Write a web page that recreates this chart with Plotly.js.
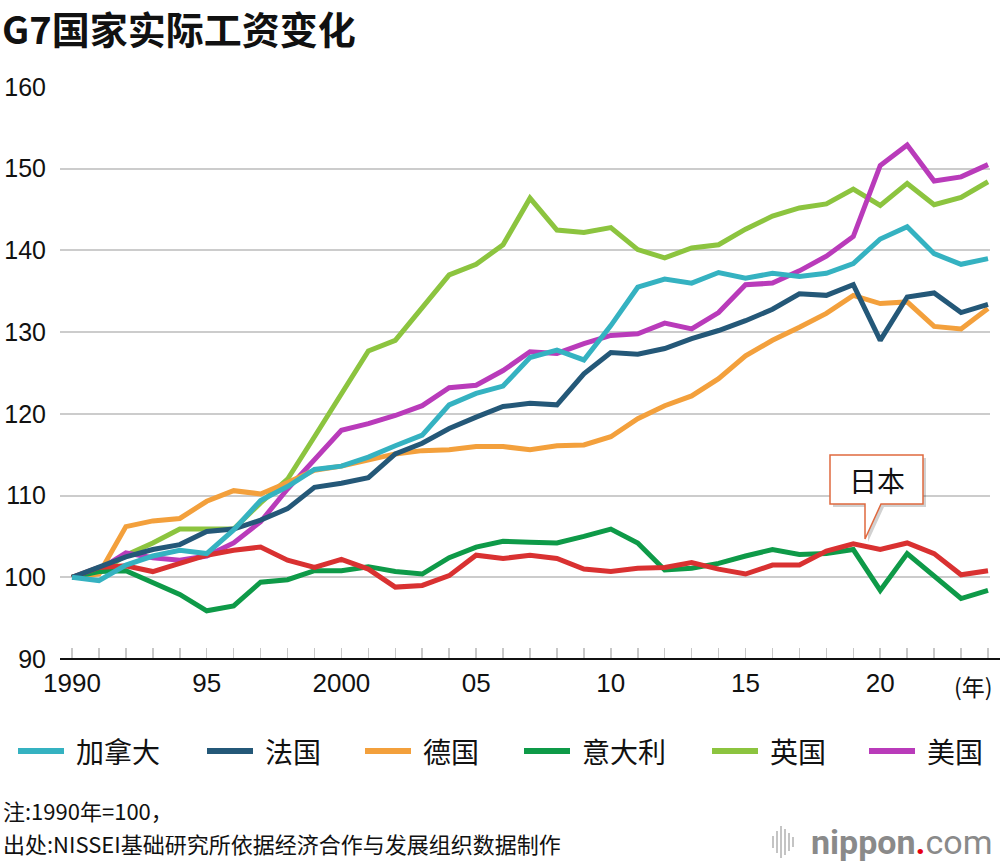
<!DOCTYPE html>
<html>
<head>
<meta charset="utf-8">
<script src="https://cdn.plot.ly/plotly-3.0.1.min.js"></script>
<style>
  html, body { margin: 0; padding: 0; background: #ffffff; }
  #chart { width: 1000px; height: 864px; }
</style>
</head>
<body>
<div id="chart"></div>
<script>
// ---------------- data ----------------
const years = [];
for (let y = 1990; y <= 2024; y++) years.push(y);

const canada = [100, 99.6, 101.5, 102.6, 103.3, 102.9, 105.8, 109.4, 111.1, 113.2,
  113.6, 114.7, 116.1, 117.4, 121.1, 122.5, 123.4, 126.9, 127.8, 126.6,
  130.8, 135.5, 136.5, 136.0, 137.3, 136.6, 137.2, 136.8, 137.2, 138.4,
  141.4, 142.9, 139.6, 138.3, 139.0];
const france = [100, 101.3, 102.5, 103.4, 104.0, 105.6, 105.9, 107.0, 108.4, 111.0,
  111.5, 112.2, 115.1, 116.4, 118.2, 119.6, 120.9, 121.3, 121.1, 124.9,
  127.5, 127.3, 128.0, 129.2, 130.2, 131.4, 132.8, 134.7, 134.5, 135.8,
  129.0, 134.3, 134.8, 132.4, 133.4];
const germany = [100, 100.4, 106.2, 106.9, 107.2, 109.3, 110.6, 110.2, 111.6, 113.1,
  113.6, 114.4, 115.1, 115.5, 115.6, 116.0, 116.0, 115.6, 116.1, 116.2,
  117.2, 119.4, 121.0, 122.2, 124.3, 127.1, 129.0, 130.6, 132.3, 134.5,
  133.5, 133.7, 130.7, 130.4, 132.9];
const italy = [100, 100.7, 100.8, 99.3, 97.9, 95.9, 96.5, 99.4, 99.7, 100.8,
  100.8, 101.3, 100.7, 100.4, 102.4, 103.7, 104.4, 104.3, 104.2, 105.0,
  105.9, 104.2, 100.9, 101.1, 101.7, 102.6, 103.4, 102.8, 102.9, 103.4,
  98.4, 102.9, 100.1, 97.4, 98.4];
const uk = [100, 100.5, 102.7, 104.2, 105.9, 105.9, 105.9, 109.1, 112.0, 117.2,
  122.4, 127.7, 129.0, 133.1, 137.0, 138.3, 140.7, 146.4, 142.5, 142.2,
  142.8, 140.1, 139.1, 140.3, 140.7, 142.6, 144.2, 145.2, 145.7, 147.5,
  145.5, 148.2, 145.6, 146.5, 148.4];
const usa = [100, 100.9, 103.0, 102.4, 102.1, 102.6, 104.2, 106.8, 110.8, 114.4,
  118.0, 118.8, 119.8, 121.0, 123.2, 123.5, 125.3, 127.6, 127.4, 128.6,
  129.6, 129.8, 131.1, 130.4, 132.4, 135.8, 136.0, 137.5, 139.3, 141.7,
  150.4, 152.9, 148.5, 149.0, 150.5];
const japan = [100, 101.2, 101.4, 100.7, 101.7, 102.7, 103.3, 103.7, 102.1, 101.2,
  102.2, 101.0, 98.8, 99.0, 100.2, 102.7, 102.3, 102.7, 102.3, 101.0,
  100.7, 101.1, 101.2, 101.8, 101.0, 100.4, 101.5, 101.5, 103.2, 104.1,
  103.4, 104.2, 102.9, 100.3, 100.8];

const xTickVals = [1990, 1995, 2000, 2005, 2010, 2015, 2020];
const xTickText = ['1990', '95', '2000', '05', '10', '15', '20'];
const yTickVals = [90, 100, 110, 120, 130, 140, 150, 160];

const legendNames = ['加拿大', '法国', '德国', '意大利', '英国', '美国'];
const japanName = '日本';

// ---------------- styles ----------------
const colors = {
  '加拿大': '#35b2c1', '法国': '#245878', '德国': '#f3a03c',
  '意大利': '#0e9a48', '英国': '#8cc43f', '美国': '#b93bba', '日本': '#d93131'
};
const seriesData = {
  '加拿大': canada, '法国': france, '德国': germany,
  '意大利': italy, '英国': uk, '美国': usa, '日本': japan
};
// drawing order (last on top)
const drawOrder = ['英国', '美国', '德国', '意大利', '日本', '法国', '加拿大'];

const traces = drawOrder.map(n => ({
  type: 'scatter', mode: 'lines', name: n,
  x: years, y: seriesData[n],
  line: { color: colors[n], width: 5 },
  showlegend: false, hoverinfo: 'skip'
}));

// pixel -> paper helpers (plot area: x 60..990, y 87..659)
const L = 60, R = 990, T = 87, B = 659;
const PX = p => (p - L) / (R - L);
const PY = p => (B - p) / (B - T);

const cjk = '"Noto Sans CJK SC", "Noto Sans", sans-serif';
const num = '"Liberation Sans Narrow", "Liberation Sans", Arial, sans-serif';

const shapes = [];
const annotations = [];

// bottom axis line
shapes.push({ type: 'line', xref: 'paper', yref: 'paper',
  x0: PX(60), x1: PX(1000), y0: 0, y1: 0,
  line: { color: '#111', width: 2 }, layer: 'above' });

// custom legend
const legendX = [16, 205, 363, 522, 710, 867];
const legendY = 751;
legendNames.forEach((n, i) => {
  shapes.push({ type: 'line', xref: 'paper', yref: 'paper',
    x0: PX(legendX[i] + 2), x1: PX(legendX[i] + 48), y0: PY(legendY), y1: PY(legendY),
    line: { color: colors[n], width: 6 } });
  annotations.push({ xref: 'paper', yref: 'paper', x: PX(legendX[i] + 58), y: PY(legendY),
    xanchor: 'left', yanchor: 'middle', showarrow: false, text: n,
    font: { family: cjk, size: 28, color: '#111' } });
});

// callout bubble for Japan
function bubblePath(dx, dy) {
  const pts = [[830, 455], [923, 455], [923, 504], [881, 504], [865, 539], [865, 504], [830, 504]];
  return 'M' + pts.map(p => PX(p[0] + dx) + ',' + PY(p[1] + dy)).join(' L') + ' Z';
}
shapes.push({ type: 'path', xref: 'paper', yref: 'paper', path: bubblePath(3, 3),
  fillcolor: 'rgba(0,0,0,0.18)', line: { width: 0 }, layer: 'above' });
shapes.push({ type: 'path', xref: 'paper', yref: 'paper', path: bubblePath(0, 0),
  fillcolor: '#ffffff', line: { color: '#e0693f', width: 1.5 }, layer: 'above' });
annotations.push({ xref: 'paper', yref: 'paper', x: PX(876.5), y: PY(480),
  xanchor: 'center', yanchor: 'middle', showarrow: false, text: japanName,
  font: { family: cjk, size: 28, color: '#111' } });

// year unit label
annotations.push({ xref: 'paper', yref: 'paper', x: PX(973), y: PY(686),
  xanchor: 'center', yanchor: 'middle', showarrow: false, text: '(年)',
  font: { family: cjk, size: 23, color: '#111' } });

// notes
annotations.push({ xref: 'paper', yref: 'paper', x: PX(1), y: PY(810),
  xanchor: 'left', yanchor: 'middle', align: 'left', showarrow: false,
  text: '注:1990年=100，',
  font: { family: cjk, size: 22, color: '#111' } });
annotations.push({ xref: 'paper', yref: 'paper', x: PX(1), y: PY(843),
  xanchor: 'left', yanchor: 'middle', align: 'left', showarrow: false,
  text: '出处:NISSEI基础研究所依据经济合作与发展组织数据制作',
  font: { family: cjk, size: 22, color: '#111' } });

// logo
annotations.push({ xref: 'paper', yref: 'paper', x: PX(994), y: PY(842),
  xanchor: 'right', yanchor: 'middle', showarrow: false,
  text: '<b>nippon</b><span style="color:#e60012"><b>.</b></span>com',
  font: { family: 'Roboto, "Open Sans", sans-serif', size: 34, color: '#8a8a8a' } });
const waveX = [773, 777, 781, 785, 789, 793];
const waveH = [12, 22, 32, 26, 18, 10];
waveX.forEach((x, i) => {
  shapes.push({ type: 'line', xref: 'paper', yref: 'paper',
    x0: PX(x), x1: PX(x), y0: PY(842 - waveH[i] / 2), y1: PY(842 + waveH[i] / 2),
    line: { color: '#c4c4c4', width: 2 } });
});

const layout = {
  width: 1000, height: 864,
  margin: { l: L, r: 1000 - R, t: T, b: 864 - B, pad: 0 },
  paper_bgcolor: '#ffffff', plot_bgcolor: '#ffffff',
  showlegend: false,
  title: {
    text: '<b>G7国家实际工资变化</b>',
    x: 0.002, xanchor: 'left', xref: 'container',
    y: 1 - 31 / 864, yanchor: 'middle', yref: 'container',
    font: { family: cjk, size: 38, color: '#111' }
  },
  xaxis: {
    range: [1990 - 12 / 26.94, 2024 + 2 / 26.94],
    tickmode: 'array', tickvals: xTickVals, ticktext: xTickText,
    ticks: 'inside', ticklen: 11, tickwidth: 1.5, tickcolor: '#c8c8c8',
    minor: { tick0: 1990, dtick: 1, ticks: 'inside', ticklen: 11, tickwidth: 1.5, tickcolor: '#c8c8c8' },
    showgrid: false, zeroline: false, showline: false,
    tickfont: { family: num, size: 26, color: '#111' },
    ticklabelstandoff: 6,
    fixedrange: true
  },
  yaxis: {
    range: [90, 160],
    tickmode: 'array', tickvals: yTickVals,
    ticks: '', showgrid: true, gridcolor: '#cccccc', gridwidth: 2,
    zeroline: false, showline: false,
    tickfont: { family: num, size: 25, color: '#111' },
    ticklabelstandoff: 13,
    fixedrange: true
  },
  shapes: shapes,
  annotations: annotations
};

Plotly.newPlot('chart', traces, layout, { displayModeBar: false, staticPlot: true });
</script>
</body>
</html>
